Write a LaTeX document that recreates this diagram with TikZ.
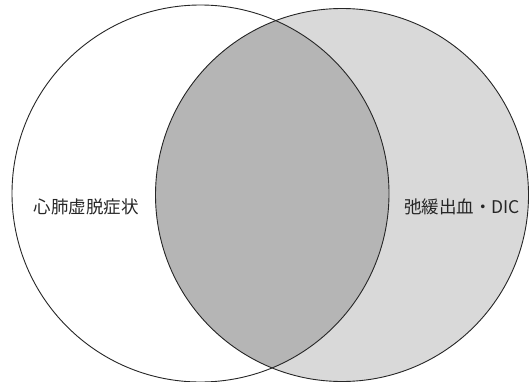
\documentclass[tikz,border=0pt]{standalone}
\usepackage{fontspec}
\newfontfamily\cjk{Noto Sans CJK JP}
\begin{document}
\begin{tikzpicture}[x=1pt,y=1pt,
  ring/.style={draw=black!85, line width=0.9pt},
  lbl/.style={font=\cjk\fontsize{17.5}{20}\selectfont, inner sep=0pt, text=black!85}]
\useasboundingbox (0,0) rectangle (529,-382);
\fill[white] (0,0) rectangle (529,-382);
\coordinate (cl) at (200.5,-193.5);
\coordinate (cr) at (342,-195);
\fill[black!15] (cr) circle (186.5);
\begin{scope}
  \clip (cl) circle (188.5);
  \fill[black!29] (cr) circle (186.5);
\end{scope}
\draw[ring] (cl) circle (188.5);
\draw[ring] (cr) circle (186.5);
\node[lbl] (a) at (86,-206.5) {心肺虚脱症状};
\node[lbl] (b) at (462,-206.5) {弛緩出血・DIC};
\end{tikzpicture}
\end{document}
